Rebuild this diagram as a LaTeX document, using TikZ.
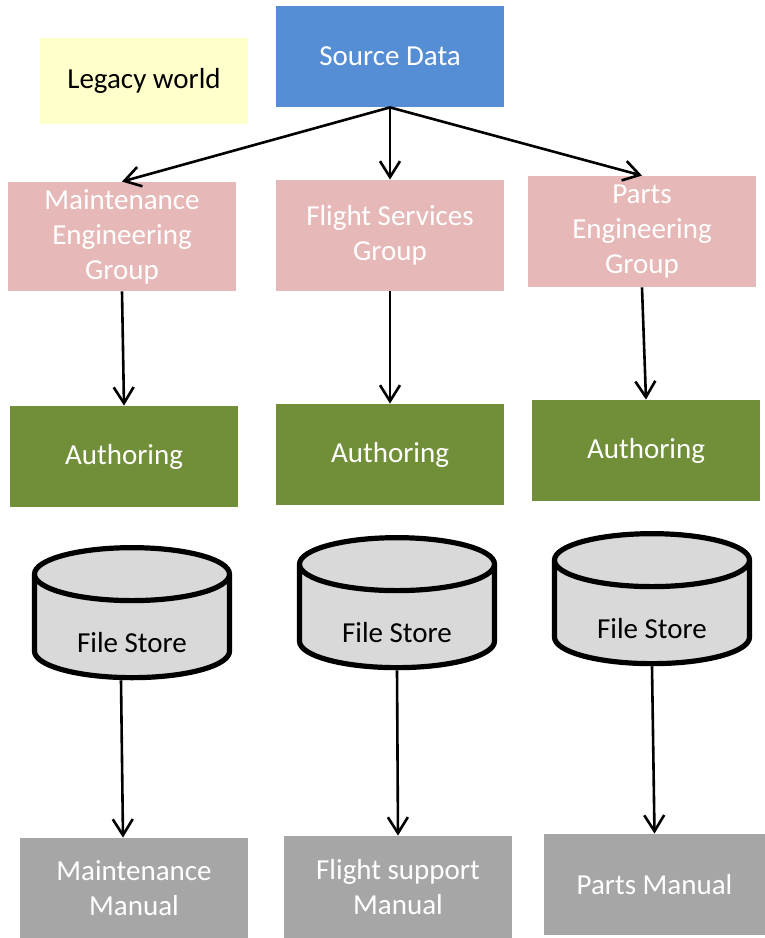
\documentclass[tikz,border=0pt]{standalone}
\usepackage{fontspec}
\setmainfont{Carlito}
\usepackage{xcolor}
\usepackage{tikz}
\usetikzlibrary{arrows.meta}
\usetikzlibrary{shapes.geometric}

\definecolor{srcblue}{HTML}{558ED5}
\definecolor{grppink}{HTML}{E6B9B8}
\definecolor{authgreen}{HTML}{718E38}
\definecolor{storegray}{HTML}{D9D9D9}
\definecolor{manualgray}{HTML}{A6A6A6}
\definecolor{legacyyellow}{HTML}{FFFFCC}

\tikzset{every edge/.style={draw, line width=1.3pt},
  >={Straight Barb[length=8pt, width=10pt, line width=1.3pt]},
  box/.style={minimum width=114pt, align=center, text=white, inner sep=0pt},
  store/.style={cylinder, shape border rotate=90, aspect=0.43, draw,
    line width=2.6pt, fill=storegray, minimum width=97.5pt, minimum height=65pt,
    text height=21pt}}

\begin{document}
\begin{tikzpicture}[x=0.5pt, y=-0.5pt,
    every node/.style={font=\fontsize{14.5}{17.5}\selectfont}]
    \useasboundingbox (0, 0) rectangle (765, 938);

    \node[fill=legacyyellow, minimum width=104pt, minimum height=43pt] at (144, 81) (legacy) {Legacy world};
    \node[box, fill=srcblue, minimum height=50.5pt] at (390, 56.5) (src) {Source Data};

    % groups
    \node[box, fill=grppink, minimum height=54.5pt] at (122, 236.5) (meg) {Maintenance\\Engineering\\Group};
    \node[box, fill=grppink, minimum height=55.5pt] at (390, 235.5) (fsg) {Flight Services\\Group};
    \node[box, fill=grppink, minimum height=55.5pt] at (642, 231.5) (peg) {Parts\\Engineering\\Group};

    % authoring
    \node[box, fill=authgreen, minimum height=50.5pt] at (124, 456.5) (auth1) {Authoring};
    \node[box, fill=authgreen, minimum height=50.5pt] at (390, 454.5) (auth2) {Authoring};
    \node[box, fill=authgreen, minimum height=50.5pt] at (646, 450.5) (auth3) {Authoring};

    % file stores
    \node[store] at (132, 632) (fs1) {File Store};
    \node[store] at (397, 622) (fs2) {File Store};
    \node[store] at (652, 618) (fs3) {File Store};

    % manuals
    \node[box, fill=manualgray, minimum height=50pt] at (134, 888) (man1) {Maintenance\\Manual};
    \node[box, fill=manualgray, minimum height=51pt] at (398, 887) (man2) {Flight support\\Manual};
    \node[box, fill=manualgray, minimum width=110.5pt, minimum height=50.5pt] at (654.5, 884.5) (man3) {Parts Manual};

    \draw (src.south) edge[->] (meg.north);
    \draw (src.south) edge[->] (fsg.north);
    \draw (src.south) edge[->] (peg.north);

    \draw (meg.south) edge[->] (auth1.north);
    \draw (fsg.south) edge[->] (auth2.north);
    \draw (peg.south) edge[->] (auth3.north);

    \draw ([xshift=-5.5pt]fs1.south) edge[->] ([xshift=-5.5pt]man1.north);
    \draw (fs2.south) edge[->] (man2.north);
    \draw (fs3.south) edge[->] (man3.north);
\end{tikzpicture}
\end{document}
